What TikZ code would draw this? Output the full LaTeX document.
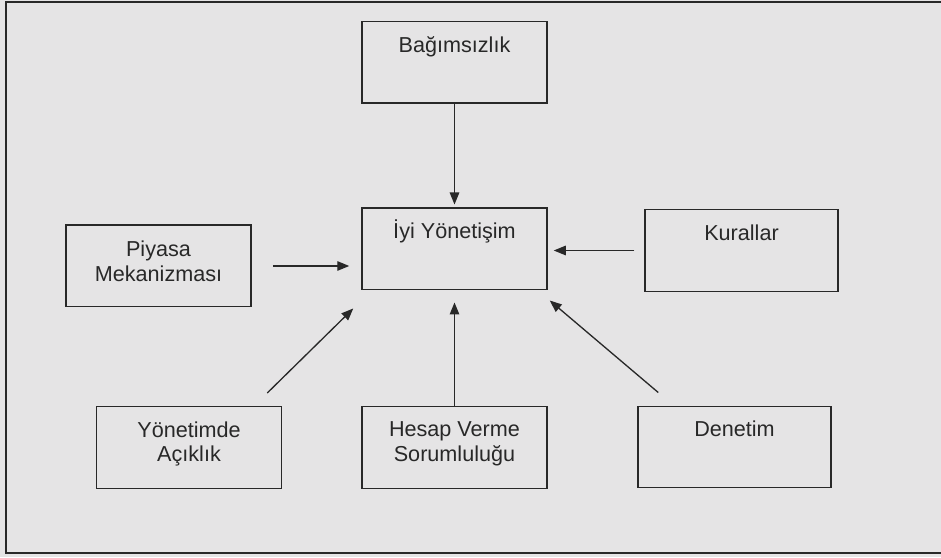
\documentclass[tikz,border=0pt]{standalone}
\usepackage{fontspec}
\setmainfont{Liberation Sans}
\usetikzlibrary{positioning,arrows.meta}
\definecolor{zemin}{RGB}{229,228,229}
\definecolor{murekkep}{RGB}{40,40,40}
\begin{document}
\begin{tikzpicture}[every node/.style={font=\fontsize{12.3}{14.2}\selectfont,text=murekkep}, >={Triangle[length=0.24cm,width=0.19cm]}]
  \tikzstyle{kutu}=[draw=murekkep,line width=0.85pt,minimum width=3.7cm,minimum height=1.63cm]
  \tikzstyle{yazi}=[align=center,inner sep=0pt]
  \tikzstyle{ok}=[->,draw=murekkep,line width=0.75pt]
  \useasboundingbox (0,0) rectangle (18.82,11.14);
  \fill[zemin] (0,0) rectangle (18.82,11.14);
  \draw[murekkep,line width=1.4pt] (0.12,0.08) rectangle (19.2,11.10);
  % kutular
  \node[kutu] (bag) at (9.09,9.89) {};
  \node[kutu] (iyi) at (9.09,6.16) {};
  \node[kutu] (piyasa) at (3.17,5.82) {};
  \node[kutu,minimum width=3.86cm] (kural) at (14.83,6.13) {};
  \node[kutu] (acik) at (3.78,2.19) {};
  \node[kutu] (hesap) at (9.09,2.19) {};
  \node[kutu,minimum width=3.86cm] (denetim) at (14.69,2.20) {};
  % yazilar
  \node[yazi,below=0.3cm of bag.north] (bag-y) {Bağımsızlık};
  \node[yazi,below=0.24cm of iyi.north] (iyi-y) {İyi Yönetişim};
  \node[yazi,below=0.32cm of piyasa.north] (piyasa-y) {Piyasa\\Mekanizması};
  \node[yazi,below=0.3cm of kural.north] (kural-y) {Kurallar};
  \node[yazi,below=0.3cm of acik.north] (acik-y) {Yönetimde\\Açıklık};
  \node[yazi,below=0.3cm of hesap.north] (hesap-y) {Hesap Verme\\Sorumluluğu};
  \node[yazi,below=0.3cm of denetim.north] (denetim-y) {Denetim};
  % oklar
  \draw[ok,shorten >=0.06cm] (bag.south) -- (iyi.north);
  \draw[ok,shorten <=0.42cm,shorten >=0.24cm] (piyasa.east) -- (piyasa.east -| iyi.west);
  \draw[ok,shorten <=0.2cm,shorten >=0.12cm] (kural.west) -- (kural.west -| iyi.east);
  \draw[ok] ([shift={(-0.30,0.26)}]acik.north east) -- ([shift={(-0.16,-0.36)}]iyi.south west);
  \draw[ok,shorten >=0.24cm] (hesap.north) -- (iyi.south);
  \draw[ok] ([shift={(0.42,0.26)}]denetim.north west) -- ([shift={(0.04,-0.2)}]iyi.south east);
\end{tikzpicture}
\end{document}
